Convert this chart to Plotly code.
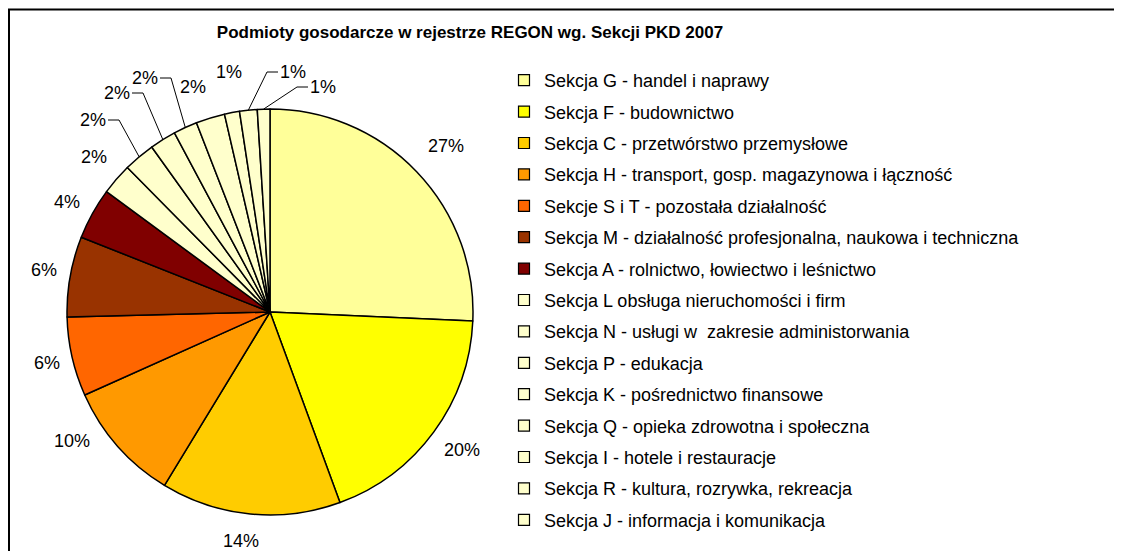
import math
import plotly.graph_objects as go

# Sekcje PKD 2007 (kolejność jak w legendzie)
sections = [
    "Sekcja G - handel i naprawy",
    "Sekcja F - budownictwo",
    "Sekcja C - przetwórstwo przemysłowe",
    "Sekcja H - transport, gosp. magazynowa i łączność",
    "Sekcje S i T - pozostała działalność",
    "Sekcja M - działalność profesjonalna, naukowa i techniczna",
    "Sekcja A - rolnictwo, łowiectwo i leśnictwo",
    "Sekcja L obsługa nieruchomości i firm",
    "Sekcja N - usługi w  zakresie administorwania",
    "Sekcja P - edukacja",
    "Sekcja K - pośrednictwo finansowe",
    "Sekcja Q - opieka zdrowotna i społeczna",
    "Sekcja I - hotele i restauracje",
    "Sekcja R - kultura, rozrywka, rekreacja",
    "Sekcja J - informacja i komunikacja",
]

# udział (%)
shares = [25.7, 18.7, 14.3, 9.6, 6.3, 6.4, 4.1, 2.5, 2.5, 2.1, 1.9, 2.3, 1.2, 1.4, 1.0]

# etykiety wydrukowane na wykresie
pct_labels = ["27%", "20%", "14%", "10%", "6%", "6%", "4%",
              "2%", "2%", "2%", "2%", "2%", "1%", "1%", "1%"]

colors = ["#FFFF99", "#FFFF00", "#FFCC00", "#FF9900", "#FF6600", "#993300",
          "#800000", "#FFFFCC", "#FFFFCC", "#FFFFCC", "#FFFFCC", "#FFFFCC",
          "#FFFFCC", "#FFFFCC", "#FFFFCC"]

# położenie etykiet (px) i czy mają linię odniesienia
label_pos = [(438, 138), (454, 442), (233, 533), (64, 433), (39, 355),
             (36, 262), (59, 194), (86, 149), (85, 112), (109, 85),
             (137, 70), (185, 79), (221, 64), (285, 64), (315, 79)]
leader = [False, False, False, False, False, False, False, False,
          True, True, True, False, False, True, True]

W, H = 1114, 543
cx, cy, r = 262, 304, 203


def px(x, y):
    return x / W, 1 - y / H


fig = go.Figure()

fig.add_trace(go.Pie(
    labels=sections,
    values=shares,
    textinfo="none",
    sort=False,
    direction="clockwise",
    rotation=0,
    marker=dict(colors=colors, line=dict(color="black", width=1.5)),
    showlegend=False,
    domain=dict(x=[(cx - r) / W, (cx + r) / W],
                y=[(H - cy - r) / H, (H - cy + r) / H]),
))

# legenda: osobne wpisy, by uzyskać odstępy jak w oryginale
for name, col in zip(sections, colors):
    fig.add_trace(go.Scatter(
        x=[None], y=[None],
        mode="markers",
        name=name,
        legendgroup=name,
        marker=dict(symbol="square", size=11, color=col,
                    line=dict(color="black", width=1.2)),
    ))

# etykiety procentowe (+ łamane linie odniesienia)
total = sum(shares)
acc = 0
for val, txt, (lx, ly), lead in zip(shares, pct_labels, label_pos, leader):
    mid = (acc + val / 2) / total * 2 * math.pi
    acc += val
    ax_, ay_ = px(lx, ly)
    fig.add_annotation(
        x=ax_, y=ay_, xref="paper", yref="paper",
        text=txt, showarrow=False,
        xanchor="center", yanchor="middle",
        font=dict(size=18, color="black"),
    )
    if lead:
        tx = cx + r * math.sin(mid)
        ty = cy - r * math.cos(mid)
        side = 1 if tx > lx else -1
        x0 = lx + side * 15
        x1 = x0 + side * 11
        p0, p1, p2 = px(x0, ly), px(x1, ly), px(tx, ty)
        fig.add_shape(
            type="path", xref="paper", yref="paper",
            path=f"M {p0[0]},{p0[1]} L {p1[0]},{p1[1]} L {p2[0]},{p2[1]}",
            line=dict(color="black", width=1),
        )

fig.add_shape(type="rect", xref="paper", yref="paper",
              x0=1 / W, x1=1.02, y0=-0.02, y1=1 - 1.5 / H,
              line=dict(color="black", width=2))

fig.update_layout(
    width=W, height=H,
    margin=dict(l=0, r=0, t=0, b=0),
    paper_bgcolor="white",
    plot_bgcolor="white",
    font=dict(family="Arial, Liberation Sans, sans-serif", color="black"),
    title=dict(
        text="<b>Podmioty gosodarcze w rejestrze REGON wg. Sekcji PKD 2007</b>",
        x=462 / W, xanchor="center", y=1 - 24 / H, yanchor="middle",
        font=dict(size=17),
    ),
    xaxis=dict(visible=False),
    yaxis=dict(visible=False),
    legend=dict(
        x=496 / W, xanchor="left",
        y=1 - 54 / H, yanchor="top",
        font=dict(size=18),
        tracegroupgap=5,
        bgcolor="rgba(0,0,0,0)",
    ),
)

fig.write_html("out.html")
